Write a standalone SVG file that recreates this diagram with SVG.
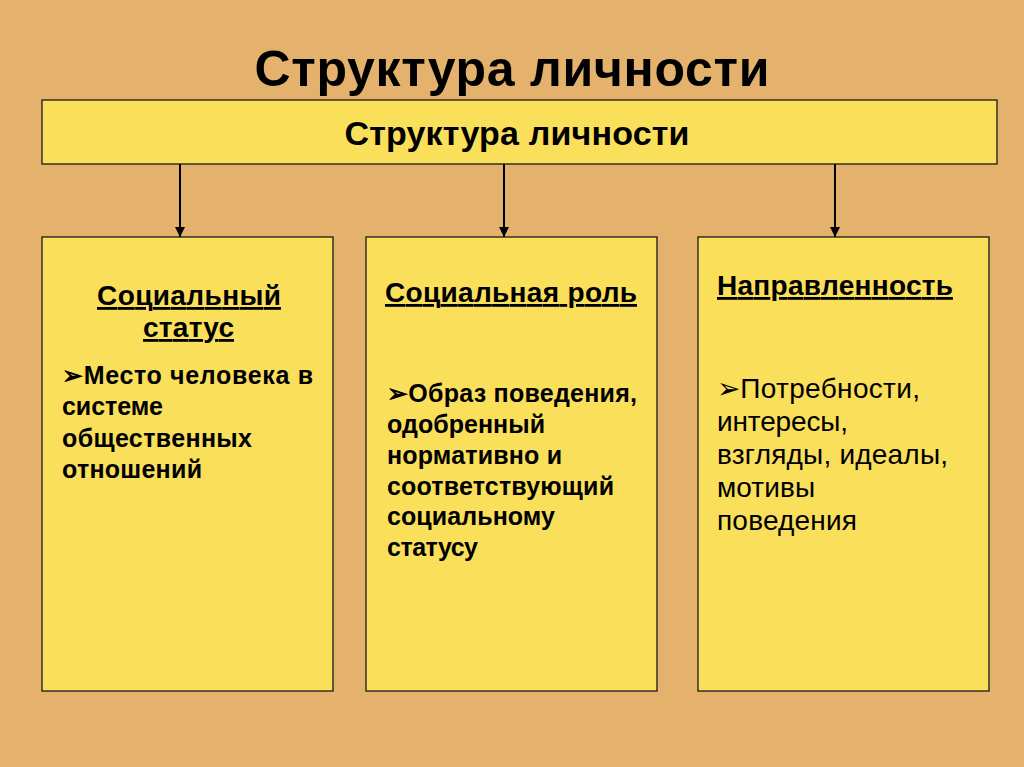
<svg xmlns="http://www.w3.org/2000/svg" width="1024" height="767" viewBox="0 0 1024 767">
<style>
.box{fill:#FADF5B;stroke:#1a1a1a;stroke-width:1.3}
text{font-family:"Liberation Sans",Arial,sans-serif;fill:#000}
.h{font-weight:bold;font-size:28px;text-decoration:underline}
.b{font-weight:bold;font-size:25px}
.n{font-size:28px}
.conn{stroke:#000;stroke-width:2;fill:none}
</style>
<defs>
<marker id="arr" viewBox="0 0 10 10" refX="10" refY="5" markerWidth="5" markerHeight="5" orient="auto" markerUnits="strokeWidth">
<path d="M0,0 L10,5 L0,10 z" fill="#000"/>
</marker>
</defs>
<rect width="1024" height="767" fill="#E5B26D"/>
<text x="512" y="86" text-anchor="middle" font-size="50" font-weight="bold" textLength="515" lengthAdjust="spacing">Структура личности</text>
<g id="root">
<rect class="box" x="42" y="100" width="955" height="64"/>
<text x="517" y="145" text-anchor="middle" font-size="34" font-weight="bold" textLength="345" lengthAdjust="spacing">Структура личности</text>
</g>
<g id="connectors">
<line class="conn" x1="180" y1="164" x2="180" y2="237" marker-end="url(#arr)"/>
<line class="conn" x1="504" y1="164" x2="504" y2="237" marker-end="url(#arr)"/>
<line class="conn" x1="835" y1="164" x2="835" y2="237" marker-end="url(#arr)"/>
</g>
<g id="status">
<rect class="box" x="42" y="237" width="291" height="454"/>
<text class="h" x="189" y="305" text-anchor="middle" textLength="184" lengthAdjust="spacing">Социальный</text>
<text class="h" x="188.5" y="337" text-anchor="middle" textLength="91" lengthAdjust="spacing">статус</text>
<text class="b" x="62" y="384" textLength="251" lengthAdjust="spacing">➢Место человека  в</text>
<text class="b" x="62" y="415" textLength="101" lengthAdjust="spacing">системе</text>
<text class="b" x="62" y="447" textLength="190" lengthAdjust="spacing">общественных</text>
<text class="b" x="62" y="478" textLength="140" lengthAdjust="spacing">отношений</text>
</g>
<g id="role">
<rect class="box" x="366" y="237" width="291" height="454"/>
<text class="h" x="385" y="302" textLength="252" lengthAdjust="spacing">Социальная роль</text>
<text class="b" x="387" y="402" textLength="250" lengthAdjust="spacing">➢Образ поведения,</text>
<text class="b" x="387" y="433" textLength="158" lengthAdjust="spacing">одобренный</text>
<text class="b" x="387" y="464" textLength="175" lengthAdjust="spacing">нормативно и</text>
<text class="b" x="387" y="495" textLength="227" lengthAdjust="spacing">соответствующий</text>
<text class="b" x="387" y="525" textLength="168" lengthAdjust="spacing">социальному</text>
<text class="b" x="387" y="556" textLength="91" lengthAdjust="spacing">статусу</text>
</g>
<g id="direction">
<rect class="box" x="698" y="237" width="291" height="454"/>
<text class="h" x="717" y="295" textLength="236" lengthAdjust="spacing">Направленность</text>
<text class="n" x="717" y="398" textLength="203" lengthAdjust="spacing">➢Потребности,</text>
<text class="n" x="717" y="431" textLength="131" lengthAdjust="spacing">интересы,</text>
<text class="n" x="717" y="464" textLength="231" lengthAdjust="spacing">взгляды, идеалы,</text>
<text class="n" x="717" y="497" textLength="98" lengthAdjust="spacing">мотивы</text>
<text class="n" x="717" y="530" textLength="140" lengthAdjust="spacing">поведения</text>
</g>
</svg>
